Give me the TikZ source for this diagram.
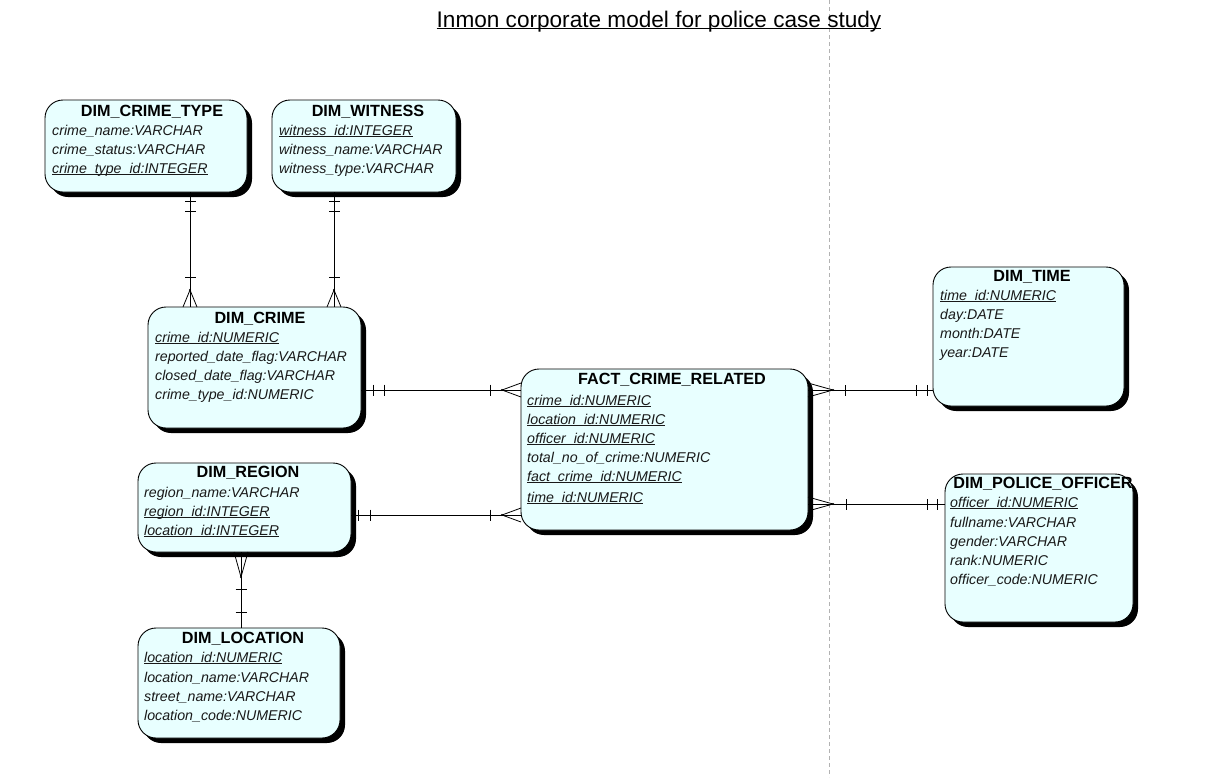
\documentclass[tikz,border=0pt]{standalone}
\usepackage{fontspec}
\setmainfont{Liberation Sans}
\usetikzlibrary{shadows,decorations.markings}
\definecolor{entfill}{RGB}{232,255,255}
\newcommand{\ulx}[1]{\underline{\smash{#1}}}
\begin{document}
\begin{tikzpicture}[x=1pt,y=-1pt,
  ent/.style={draw=black, line width=0.9pt, fill=entfill, rounded corners=18pt,
    inner sep=0pt, outer sep=0pt, anchor=north west,
    drop shadow={shadow xshift=5pt, shadow yshift=-5pt, fill=black, opacity=1}},
  hdr/.style={font=\fontsize{16.2}{18}\selectfont\bfseries, anchor=base, inner sep=0pt},
  attr/.style={font=\fontsize{14.2}{16}\selectfont\itshape, anchor=base west, inner sep=0pt, text=black!90},
  conn/.style={draw=black, line width=0.8pt},
  bar/.style={postaction={decorate, decoration={markings,
    mark=at position #1 with {\draw[conn] (0,-5.5) -- (0,5.5);}}}},
  crowend/.style={postaction={decorate, decoration={markings,
    mark=at position 1 with {\draw[conn] (0,7) -- (-#1,0) -- (0,-7); \fill (-#1,0) circle (1.2);}}}}
]
\useasboundingbox (0,0) rectangle (1212,777);

% dashed page divider
\coordinate (dtop) at (829,0);
\coordinate (dbot) at (829,777);
\draw[black!30, dash pattern=on 4pt off 3pt, line width=0.8pt] (dtop) -- (dbot);

% title
\node[font=\fontsize{22.6}{26}\selectfont, anchor=base, inner sep=0pt] (title) at (659,27)
  {\ulx{Inmon corporate model for police case study}};

% entity boxes
\node[ent, minimum width=202pt, minimum height=92pt] (ct) at (45,100) {};
\node[ent, minimum width=184pt, minimum height=92pt] (wi) at (272,100) {};
\node[ent, minimum width=213pt, minimum height=121pt] (cr) at (148,307) {};
\node[ent, minimum width=287pt, minimum height=161pt] (fa) at (521,369) {};
\node[ent, minimum width=191pt, minimum height=139pt] (ti) at (933,267) {};
\node[ent, minimum width=188pt, minimum height=148pt] (po) at (945,474) {};
\node[ent, minimum width=213pt, minimum height=89pt] (rg) at (138,463) {};
\node[ent, minimum width=202pt, minimum height=110pt] (lo) at (138,628) {};

% connectors
\draw[conn, bar=9pt, bar=19pt, bar=-30pt, crowend=17] (ct.south -| 190,0) -- (cr.north -| 190,0);
\draw[conn, bar=9pt, bar=19pt, bar=-30pt, crowend=17] (wi.south -| 334,0) -- (cr.north -| 334,0);
\draw[conn, bar=12pt, bar=23pt, bar=-31pt, crowend=19] (cr.east |- 0,390) -- (fa.west |- 0,390);
\draw[conn, bar=7pt, bar=19pt, bar=-31pt, crowend=19] (rg.east |- 0,515) -- (fa.west |- 0,515);
\draw[conn, bar=6pt, bar=17pt, bar=-37pt, crowend=25] (ti.west |- 0,390) -- (fa.east |- 0,390);
\draw[conn, bar=8pt, bar=18pt, bar=-38pt, crowend=25] (po.west |- 0,504) -- (fa.east |- 0,504);
\draw[conn, bar=16pt, bar=39pt, crowend=25] (lo.north -| 241,0) -- (rg.south -| 241,0);

% DIM_CRIME_TYPE
\node[hdr] (ct-h) at (152,116) {DIM\_CRIME\_TYPE};
\node[attr] (ct-1) at (52,135) {crime\_name:VARCHAR};
\node[attr] (ct-2) at (52,154) {crime\_status:VARCHAR};
\node[attr] (ct-3) at (52,173) {\ulx{crime\_type\_id:INTEGER}};

% DIM_WITNESS
\node[hdr] (wi-h) at (368,116) {DIM\_WITNESS};
\node[attr] (wi-1) at (279,135) {\ulx{witness\_id:INTEGER}};
\node[attr] (wi-2) at (279,154) {witness\_name:VARCHAR};
\node[attr] (wi-3) at (279,173) {witness\_type:VARCHAR};

% DIM_CRIME
\node[hdr] (cr-h) at (260,323) {DIM\_CRIME};
\node[attr] (cr-1) at (155,342) {\ulx{crime\_id:NUMERIC}};
\node[attr] (cr-2) at (155,361) {reported\_date\_flag:VARCHAR};
\node[attr] (cr-3) at (155,380) {closed\_date\_flag:VARCHAR};
\node[attr] (cr-4) at (155,399) {crime\_type\_id:NUMERIC};

% FACT_CRIME_RELATED
\node[hdr] (fa-h) at (672,384) {FACT\_CRIME\_RELATED};
\node[attr] (fa-1) at (527,405) {\ulx{crime\_id:NUMERIC}};
\node[attr] (fa-2) at (527,424) {\ulx{location\_id:NUMERIC}};
\node[attr] (fa-3) at (527,443) {\ulx{officer\_id:NUMERIC}};
\node[attr] (fa-4) at (527,462) {total\_no\_of\_crime:NUMERIC};
\node[attr] (fa-5) at (527,481) {\ulx{fact\_crime\_id:NUMERIC}};
\node[attr] (fa-6) at (527,502) {\ulx{time\_id:NUMERIC}};

% DIM_TIME
\node[hdr] (ti-h) at (1032,281) {DIM\_TIME};
\node[attr] (ti-1) at (940,300) {\ulx{time\_id:NUMERIC}};
\node[attr] (ti-2) at (940,319) {day:DATE};
\node[attr] (ti-3) at (940,338) {month:DATE};
\node[attr] (ti-4) at (940,357) {year:DATE};

% DIM_POLICE_OFFICER
\node[hdr] (po-h) at (1043,488) {DIM\_POLICE\_OFFICER};
\node[attr] (po-1) at (950,507) {\ulx{officer\_id:NUMERIC}};
\node[attr] (po-2) at (950,527) {fullname:VARCHAR};
\node[attr] (po-3) at (950,546) {gender:VARCHAR};
\node[attr] (po-4) at (950,565) {rank:NUMERIC};
\node[attr] (po-5) at (950,584) {officer\_code:NUMERIC};

% DIM_REGION
\node[hdr] (rg-h) at (248,477) {DIM\_REGION};
\node[attr] (rg-1) at (144,497) {region\_name:VARCHAR};
\node[attr] (rg-2) at (144,516) {\ulx{region\_id:INTEGER}};
\node[attr] (rg-3) at (144,535) {\ulx{location\_id:INTEGER}};

% DIM_LOCATION
\node[hdr] (lo-h) at (243,643) {DIM\_LOCATION};
\node[attr] (lo-1) at (144,662) {\ulx{location\_id:NUMERIC}};
\node[attr] (lo-2) at (144,682) {location\_name:VARCHAR};
\node[attr] (lo-3) at (144,701) {street\_name:VARCHAR};
\node[attr] (lo-4) at (144,720) {location\_code:NUMERIC};
\end{tikzpicture}
\end{document}
